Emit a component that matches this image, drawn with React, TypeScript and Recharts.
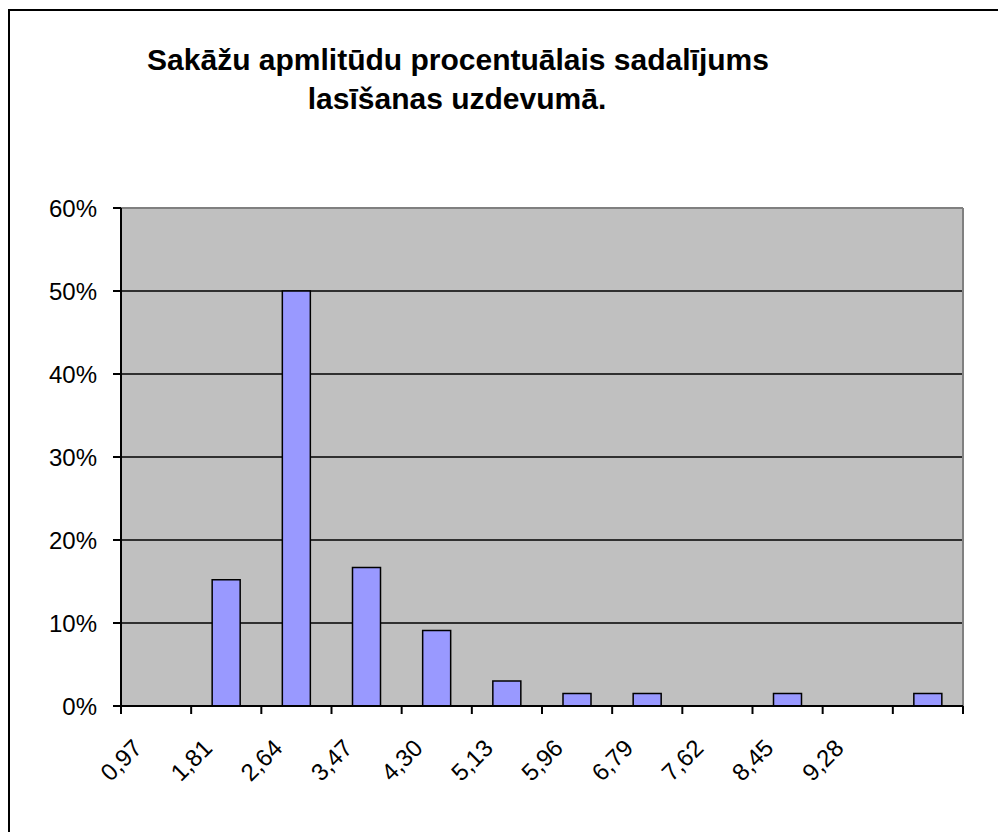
import React from "react";
import { BarChart, Bar, XAxis, YAxis, CartesianGrid, ReferenceLine } from "recharts";

const binLabels = ["0,97", "1,81", "2,64", "3,47", "4,30", "5,13", "5,96", "6,79", "7,62", "8,45", "9,28", "", ""];
const binCenters = [0.5, 1.5, 2.5, 3.5, 4.5, 5.5, 6.5, 7.5, 8.5, 9.5, 10.5, 11.5];
const percentValues = [0, 15.2, 50, 16.7, 9.1, 3.0, 1.5, 1.5, 0, 1.5, 0, 1.5];
const yTicks = [0, 10, 20, 30, 40, 50, 60];
const xTicks = [0, 1, 2, 3, 4, 5, 6, 7, 8, 9, 10, 11, 12];
const titleLines = ["Sakāžu apmlitūdu procentuālais sadalījums", "lasīšanas uzdevumā."];

const data = binCenters.map((x, i) => ({ x, value: percentValues[i] }));

const FONT = "'Liberation Sans', Arial, sans-serif";

const XTick = (props: any) => {
  const { x, y, payload } = props;
  const idx = xTicks.indexOf(payload.value);
  const label = idx >= 0 ? binLabels[idx] : "";
  const cx = x;
  const cy = y + 44;
  return (
    <text
      x={cx}
      y={cy}
      textAnchor="middle"
      dominantBaseline="central"
      transform={`rotate(-45 ${cx} ${cy})`}
      fontSize={24}
      fontFamily={FONT}
      fill="#000"
    >
      {label}
    </text>
  );
};

export default function App() {
  return (
    <div style={{ position: "relative", width: 998, height: 824, overflow: "hidden", background: "#fff" }}>
      <div
        style={{
          position: "absolute",
          left: 0,
          top: 1,
          width: 1100,
          height: 1000,
          border: "2px solid #000",
          boxSizing: "border-box",
        }}
      />
      <svg
        width={998}
        height={160}
        style={{ position: "absolute", left: 0, top: 0, pointerEvents: "none" }}
      >
        <text x={450} y={62} textAnchor="middle" fontSize={30} fontWeight="bold" fontFamily={FONT} fill="#000">
          {titleLines[0]}
        </text>
        <text x={449} y={101} textAnchor="middle" fontSize={30} fontWeight="bold" fontFamily={FONT} fill="#000">
          {titleLines[1]}
        </text>
      </svg>
      <div style={{ position: "absolute", left: 0, top: 0 }}>
        <BarChart
          width={998}
          height={824}
          data={data}
          margin={{ top: 200, right: 43, left: 0, bottom: 66 }}
          barCategoryGap="30%"
        >
          <CartesianGrid
            horizontal={true}
            vertical={false}
            fill="#C0C0C0"
            fillOpacity={1}
            stroke="#000"
            strokeWidth={1.5}
          />
          <XAxis
            dataKey="x"
            type="number"
            domain={[0, 12]}
            ticks={xTicks}
            interval={0}
            allowDataOverflow
            height={60}
            axisLine={{ stroke: "#000", strokeWidth: 2 }}
            tickLine={{ stroke: "#000", strokeWidth: 2 }}
            tickSize={8}
            tick={<XTick />}
          />
          <YAxis
            type="number"
            domain={[0, 60]}
            ticks={yTicks}
            interval={0}
            width={113}
            axisLine={{ stroke: "#000", strokeWidth: 2 }}
            tickLine={{ stroke: "#000", strokeWidth: 2 }}
            tickSize={8}
            tickMargin={16}
            tickFormatter={(v: number) => `${v}%`}
            tick={{ fill: "#000", fontSize: 24, fontFamily: FONT }}
          />
          <ReferenceLine y={60} stroke="#808080" strokeWidth={2} />
          <ReferenceLine x={12} stroke="#808080" strokeWidth={2} />
          <Bar
            dataKey="value"
            fill="#9999FF"
            stroke="#000"
            strokeWidth={1.5}
            barSize={28}
            isAnimationActive={false}
          />
        </BarChart>
      </div>
    </div>
  );
}
